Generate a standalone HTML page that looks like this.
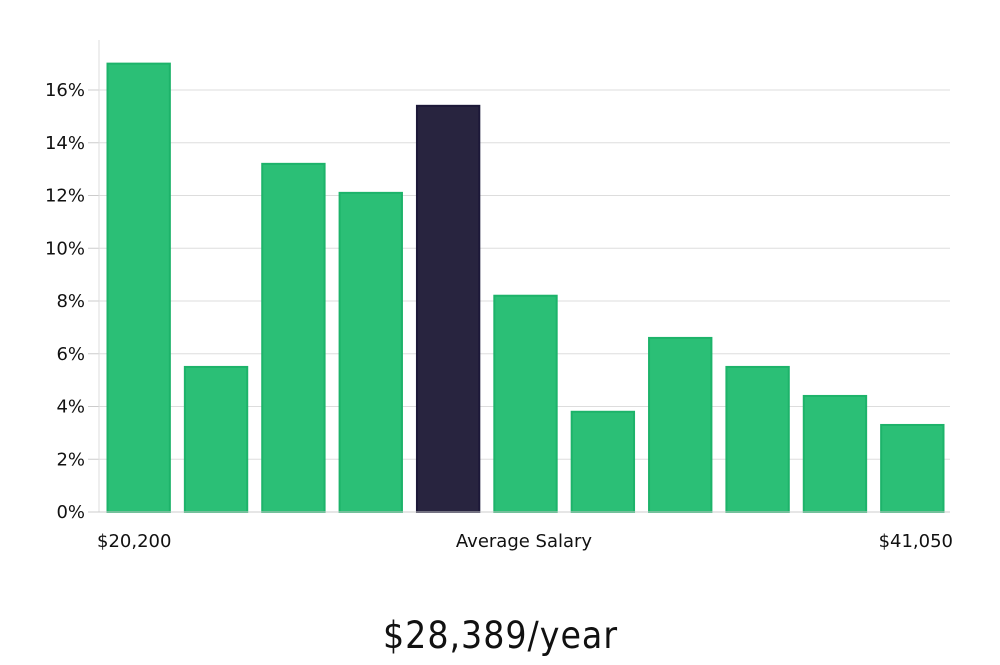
<!DOCTYPE html>
<html><head><meta charset="utf-8"><style>
body{margin:0;background:#fff;width:1000px;height:660px;overflow:hidden}
svg text{font-family:"DejaVu Sans","Liberation Sans",sans-serif;fill:#111}
</style></head><body>
<svg id="chart" width="1000" height="660" xmlns="http://www.w3.org/2000/svg">
<g id="grid"></g>
<g id="bars"></g>
<g id="yticks"></g>
<line x1="99" y1="40" x2="99" y2="512" stroke="#ddd"/>
<line x1="88" y1="512" x2="950" y2="512" stroke="#ccc"/>
<text x="97" y="547" font-size="18">$20,200</text>
<text x="524" y="547" font-size="18" text-anchor="middle">Average Salary</text>
<text x="953" y="547" font-size="18" text-anchor="end">$41,050</text>
<text x="500" y="648" font-size="37" text-anchor="middle" style="font-family:'DejaVu Sans Condensed','DejaVu Sans',sans-serif;font-weight:300" textLength="234">$28,389/year</text>
</svg>
<script>
const values=[17,5.5,13.2,12.1,15.4,8.2,3.8,6.6,5.5,4.4,3.3];
const highlight=[false,false,false,false,true,false,false,false,false,false,false];
const ticks=[0,2,4,6,8,10,12,14,16];
const tickLabels=["0%","2%","4%","6%","8%","10%","12%","14%","16%"];
const ns="http://www.w3.org/2000/svg";
const y0=512,perUnit=26.375,x0=99,xw=851;
const y=v=>y0-v*perUnit;
const band=xw/values.length;
const grid=document.getElementById('grid'),yt=document.getElementById('yticks'),bars=document.getElementById('bars');
ticks.forEach((t,i)=>{
  const l=document.createElementNS(ns,'line');
  l.setAttribute('x1',x0);l.setAttribute('x2',950);l.setAttribute('y1',y(t));l.setAttribute('y2',y(t));
  l.setAttribute('stroke','#ddd');
  
  
  grid.appendChild(l);
  const tk=document.createElementNS(ns,'line');
  tk.setAttribute('x1',88);tk.setAttribute('x2',99);tk.setAttribute('y1',y(t));tk.setAttribute('y2',y(t));
  tk.setAttribute('stroke','#ccc');
  
  
  yt.appendChild(tk);
  const tx=document.createElementNS(ns,'text');
  tx.setAttribute('x',85);tx.setAttribute('y',y(t)+6);tx.setAttribute('text-anchor','end');tx.setAttribute('font-size','18');
  tx.textContent=tickLabels[i];
  
  
  yt.appendChild(tx);
});
values.forEach((v,i)=>{
  const r=document.createElementNS(ns,'rect');
  r.setAttribute('x',x0+i*band+8.5);r.setAttribute('width',band-15);
  r.setAttribute('y',y(v));r.setAttribute('height',v*perUnit);
  r.setAttribute('fill',highlight[i]?'#28243f':'#2bbf76');
  r.setAttribute('stroke',highlight[i]?'#1c1838':'#1db36a');r.setAttribute('stroke-width','2');
  
  
  bars.appendChild(r);
});
</script>
</body></html>
